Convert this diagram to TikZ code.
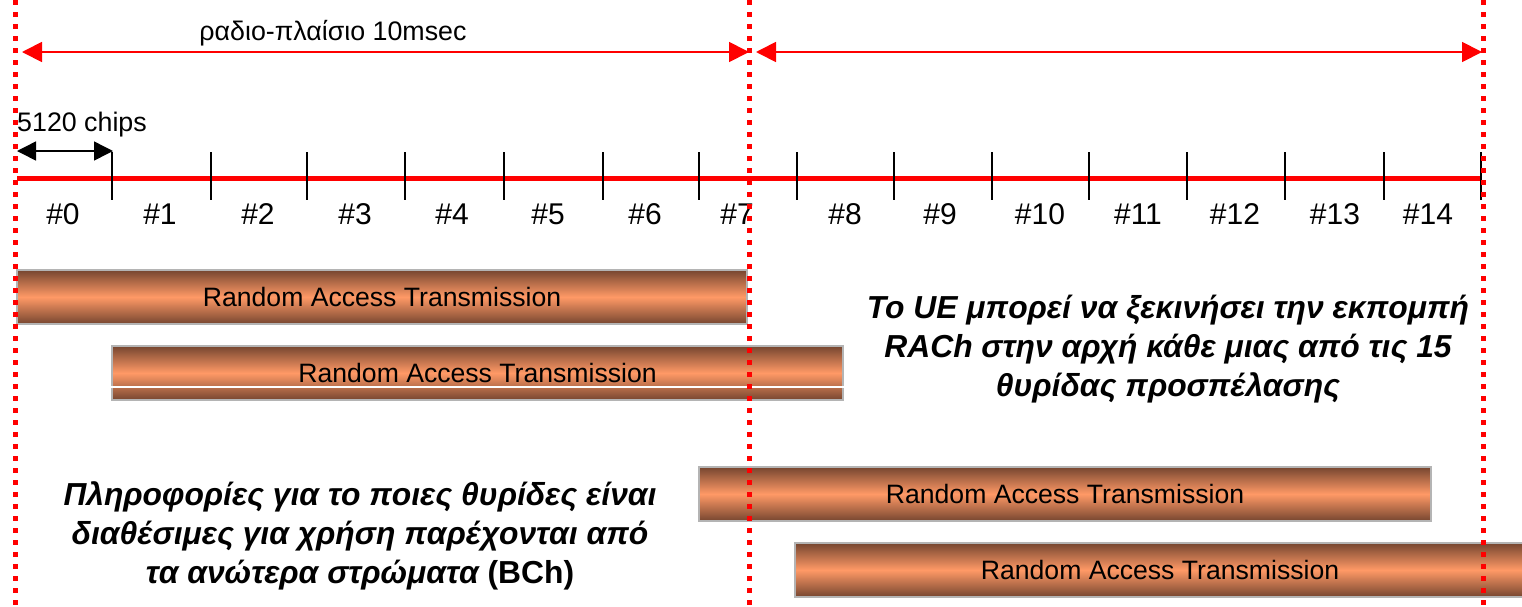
\documentclass[tikz,border=0pt]{standalone}
\usepackage{fontspec}
\setmainfont{Liberation Sans}
\usetikzlibrary{arrows.meta}
\definecolor{reddot}{RGB}{255,0,0}
\definecolor{bardark}{RGB}{118,70,48}
\definecolor{barlight}{RGB}{255,153,102}
\definecolor{barborder}{RGB}{180,180,180}
\tikzset{
  framesep/.style={draw=reddot, line width=5pt, dash pattern=on 5pt off 7pt},
  framearrow/.style={draw=reddot, line width=1.8pt, {Triangle[length=20pt,width=20pt]}-{Triangle[length=20pt,width=20pt]}},
  chiparrow/.style={draw=black, line width=1.5pt, {Triangle[length=19pt,width=19pt]}-{Triangle[length=19pt,width=19pt]}},
  axisline/.style={draw=reddot, line width=5pt},
  tickline/.style={draw=black, line width=1.5pt},
  slotlabel/.style={font=\fontsize{30}{32}\selectfont, inner sep=0pt},
  plainlabel/.style={font=\fontsize{26.8}{28}\selectfont, inner sep=0pt},
  rabar/.style={shade, top color=bardark, bottom color=bardark, middle color=barlight,
    draw=barborder, line width=2pt, minimum height=54pt, inner sep=0pt,
    font=\fontsize{26.6}{28}\selectfont},
  note/.style={font=\fontsize{31.8}{39}\selectfont\bfseries\itshape, align=center, inner sep=0pt}
}
\begin{document}
\begin{tikzpicture}[x=1pt,y=-1pt]
\useasboundingbox (0,0) rectangle (1522,606);
% bars
\node[rabar, minimum width=730pt] (bar1) at (382,297) {Random Access Transmission};
\node[rabar, minimum width=731pt] (bar2) at (477.5,373) {Random Access Transmission};
\draw[white, line width=1.2pt] ([yshift=14pt]bar2.south west) -- ([yshift=14pt]bar2.south east);
\node[rabar, minimum width=732pt] (bar3) at (1065,494) {Random Access Transmission};
\node[rabar, minimum width=730pt] (bar4) at (1160,570) {Random Access Transmission};
% axis
\coordinate (axL) at (17,178);
\coordinate (axR) at (1481,178);
\draw[axisline] (axL) -- (axR);
% ticks
\foreach \x [count=\i] in {112,211,307,405,504,603,699,797,894,992,1089,1187,1285,1384,1481} {
  \coordinate (tt\i) at (\x,152);
  \coordinate (tb\i) at (\x,200);
  \draw[tickline] (tt\i) -- (tb\i);
}
% slot labels
\foreach \x [count=\i from 0] in {63,160,258,355,452,548,645,737,845,940,1040,1138,1235,1335,1428} {
  \node[slotlabel] (s\i) at (\x,214) {\#\i};
}
% chips arrow
\coordinate (chL) at (17,151);
\coordinate (chR) at (113,151);
\draw[chiparrow] (chL) -- (chR);
\node[plainlabel, anchor=west] (chips) at (17,125) {5120 chips};
% frame arrows
\coordinate (fa1) at (22,52);
\coordinate (fa2) at (749,52);
\coordinate (fa3) at (756,52);
\coordinate (fa4) at (1482,52);
\draw[framearrow] (fa1) -- (fa2);
\draw[framearrow] (fa3) -- (fa4);
\node[plainlabel] (frame) at (333,33) {ραδιο-πλαίσιο 10msec};
% notes
\node[note] (noteR) at (1168,349) {Το UE μπορεί να ξεκινήσει την εκπομπή\\RACh στην αρχή κάθε μιας από τις 15\\θυρίδας προσπέλασης};
\node[note] (noteL) at (360,536) {Πληροφορίες για το ποιες θυρίδες είναι\\διαθέσιμες για χρήση παρέχονται από\\τα ανώτερα στρώματα {\upshape(BCh)}};
% frame separators
\foreach \x [count=\i] in {15,749,1483} {
  \coordinate (dt\i) at (\x,0);
  \coordinate (db\i) at (\x,606);
  \draw[framesep] (dt\i) -- (db\i);
}
\end{tikzpicture}
\end{document}
